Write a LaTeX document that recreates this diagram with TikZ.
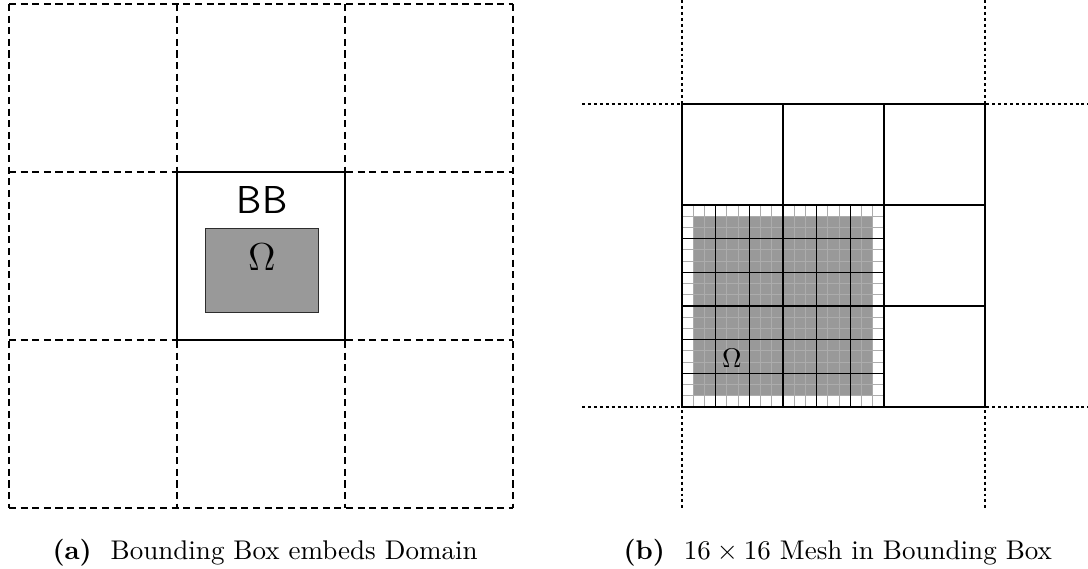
\documentclass[tikz,border=0pt]{standalone}
\begin{document}
\begin{tikzpicture}[x=0.37pt,y=-0.37pt,
  gridA/.style={line width=1pt,dash pattern=on 2.6pt off 1.7pt},
  bbbox/.style={line width=1.1pt},
  omegabox/.style={fill=gray!80,draw=gray!35!black,line width=0.35pt},
  dotline/.style={line width=0.6pt,dash pattern=on 1.1pt off 1.1pt},
  coarse/.style={line width=0.75pt},
  medium/.style={line width=0.6pt},
  fine/.style={line width=0.4pt,color=gray!65},
  ]
\useasboundingbox (0,0) rectangle (1088,569);
% ---------- (a) ----------
\foreach \k in {0,1,2,3} {
  \draw[gridA] ({9+168*\k},4) -- ({9+168*\k},508);
  \draw[gridA] (9,{4+168*\k}) -- (513,{4+168*\k});
}
\draw[bbbox] (177,172) rectangle (345,340);
\draw[omegabox] (205,228) rectangle (318,312);
\node (bb) at (262,200) {\Large\sffamily BB};
\node (om1) at (262,257) {\Large$\Omega$};
% ---------- (b) ----------
\fill[gray!80] ({682+202/18},{205+202/18}) rectangle ({884-202/18},{407-202/18});
\foreach \i in {0,...,18} {
  \draw[fine] ({682+\i*202/18},205) -- ({682+\i*202/18},407);
  \draw[fine] (682,{205+\i*202/18}) -- (884,{205+\i*202/18});
}
\foreach \i in {0,...,6} {
  \draw[medium] ({682+\i*202/6},205) -- ({682+\i*202/6},407);
  \draw[medium] (682,{205+\i*202/6}) -- (884,{205+\i*202/6});
}
\draw[coarse] (682,104) rectangle (985,407);
\draw[coarse] (783,104) -- (783,205);
\draw[coarse] (884,104) -- (884,407);
\draw[coarse] (682,205) -- (985,205);
\draw[coarse] (884,306) -- (985,306);
\draw[dotline] (582,104) -- (1088,104);
\draw[dotline] (582,407) -- (1088,407);
\draw[dotline] (682,0) -- (682,508);
\draw[dotline] (985,0) -- (985,508);
\node (om2) at (732,358) {$\Omega$};
% ---------- captions ----------
\node[anchor=base west,inner sep=0pt] (capa) at (52,559) {\textbf{(a)}\hspace{7pt}Bounding Box embeds Domain};
\node[anchor=base west,inner sep=0pt] (capb) at (623,559) {\textbf{(b)}\hspace{7pt}$16\times16$ Mesh in Bounding Box};
\end{tikzpicture}
\end{document}
